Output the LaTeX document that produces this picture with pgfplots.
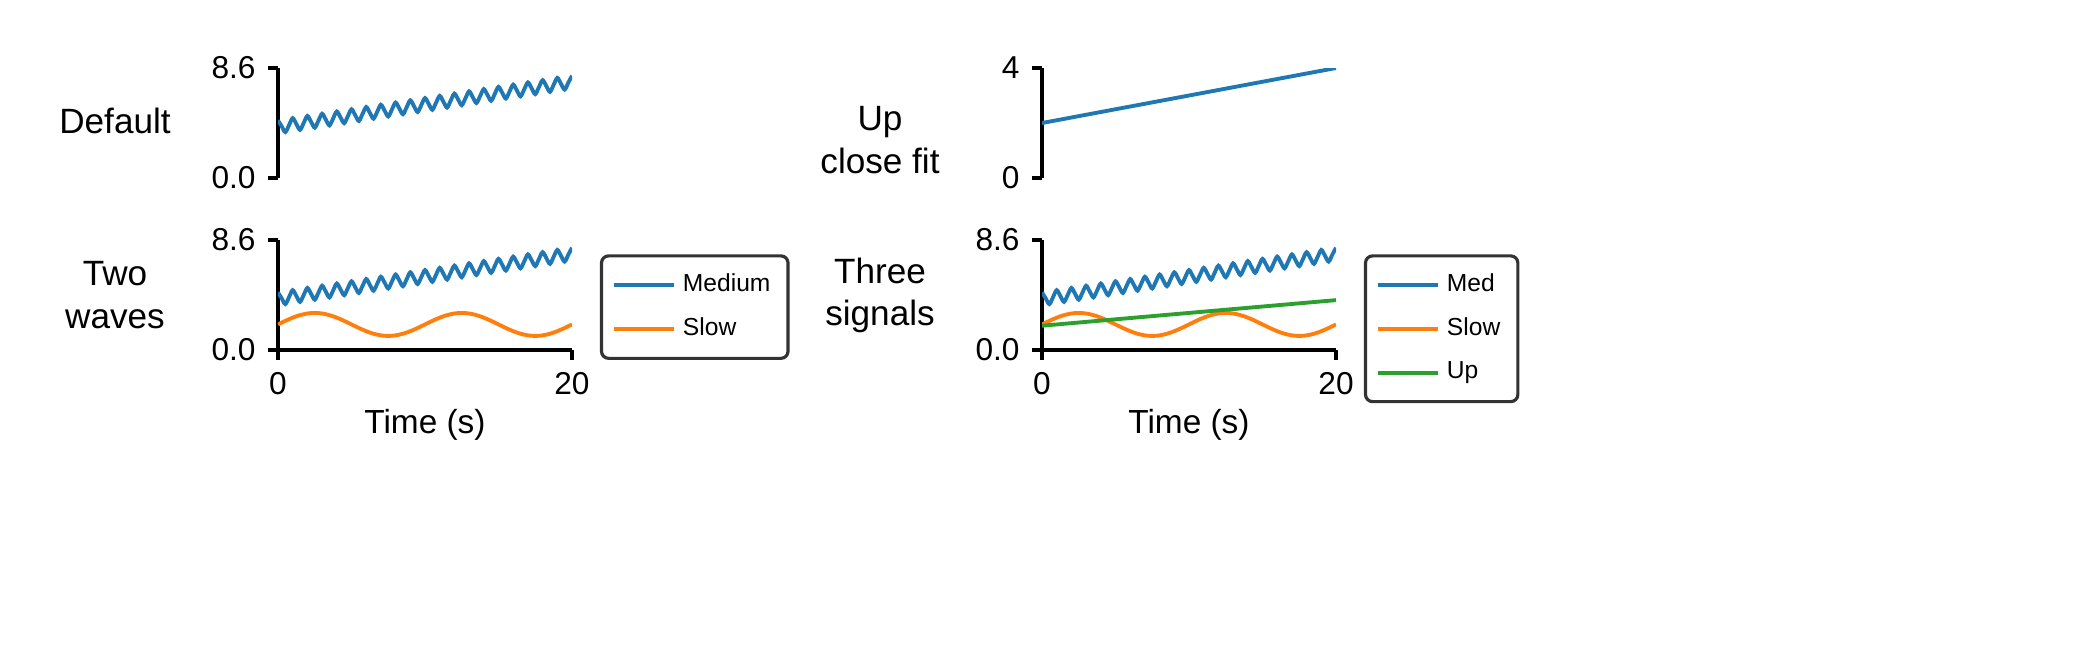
\documentclass[border=0pt]{standalone}
\usepackage{pgfplots}
\pgfplotsset{compat=1.18}
\usepackage{pgfplotstable}
\usepackage{fontspec}
\setmainfont{Liberation Sans}
\pgfplotstableread{
t m
0 4.5
0.25 4.044
0.5 3.588
0.75 4.131
1 4.675
1.25 4.219
1.5 3.763
1.75 4.306
2 4.85
2.25 4.394
2.5 3.938
2.75 4.481
3 5.025
3.25 4.569
3.5 4.113
3.75 4.656
4 5.2
4.25 4.744
4.5 4.288
4.75 4.831
5 5.375
5.25 4.919
5.5 4.463
5.75 5.006
6 5.55
6.25 5.094
6.5 4.638
6.75 5.181
7 5.725
7.25 5.269
7.5 4.813
7.75 5.356
8 5.9
8.25 5.444
8.5 4.988
8.75 5.531
9 6.075
9.25 5.619
9.5 5.163
9.75 5.706
10 6.25
10.25 5.794
10.5 5.338
10.75 5.881
11 6.425
11.25 5.969
11.5 5.513
11.75 6.056
12 6.6
12.25 6.144
12.5 5.688
12.75 6.231
13 6.775
13.25 6.319
13.5 5.863
13.75 6.406
14 6.95
14.25 6.494
14.5 6.038
14.75 6.581
15 7.125
15.25 6.669
15.5 6.213
15.75 6.756
16 7.3
16.25 6.844
16.5 6.388
16.75 6.931
17 7.475
17.25 7.019
17.5 6.563
17.75 7.106
18 7.65
18.25 7.194
18.5 6.738
18.75 7.281
19 7.825
19.25 7.369
19.5 6.913
19.75 7.456
20 8.0
}\med
\pgfplotstableread{
t s
0 2
0.5 2.278
1 2.529
1.5 2.728
2 2.856
2.5 2.9
3 2.856
3.5 2.728
4 2.529
4.5 2.278
5 2
5.5 1.722
6 1.471
6.5 1.272
7 1.144
7.5 1.1
8 1.144
8.5 1.272
9 1.471
9.5 1.722
10 2
10.5 2.278
11 2.529
11.5 2.728
12 2.856
12.5 2.9
13 2.856
13.5 2.728
14 2.529
14.5 2.278
15 2
15.5 1.722
16 1.471
16.5 1.272
17 1.144
17.5 1.1
18 1.144
18.5 1.272
19 1.471
19.5 1.722
20 2
}\slow
\definecolor{cB}{HTML}{1F77B4}
\definecolor{cO}{HTML}{FF7F0E}
\definecolor{cG}{HTML}{2CA02C}
\begin{document}
\begin{tikzpicture}
\path (0mm,0mm) rectangle (210mm,-66mm);
\pgfplotsset{
  every axis/.style={scale only axis, width=29.4mm, height=11mm,
    xmin=0, xmax=20, ymin=0, ymax=8.6, ytick={0,8.6},
    yticklabels={0.0,8.6}, xtick={0,20},
    axis y line*=left, axis x line*=bottom,
    axis line style={line width=0.9pt, -},
    tick style={line width=0.9pt, black},
    tick align=outside, major tick length=1mm,
    ticklabel style={font=\fontsize{9}{10}\selectfont},
    xlabel style={font=\fontsize{9.5}{11}\selectfont, yshift=1mm},
    /pgf/number format/assume math mode=true,
    every axis plot/.append style={line width=1.1pt},
    legend style={font=\fontsize{7}{9}\selectfont, draw=black!80, line width=0.9pt,
      rounded corners=2pt, anchor=north west, row sep=2pt, inner sep=3pt},
    legend cell align=left,
  },
}
% top-left
\begin{axis}[at={(27.8mm,-17.8mm)}, anchor=south west, hide x axis, xticklabels={}]
\addplot[cB, smooth] table[x=t,y=m] {\med};
\end{axis}
% top-right
\begin{axis}[at={(104.2mm,-17.8mm)}, anchor=south west, hide x axis, ymax=4, ytick={0,4}, yticklabels={0,4}]
\addplot[cB] coordinates {(0,2) (20,4)};
\end{axis}
% bottom-left
\begin{axis}[at={(27.8mm,-35.0mm)}, anchor=south west, xlabel={Time (s)},
  legend style={at={(1.095,0.87)}}]
\addplot[cB, smooth] table[x=t,y=m] {\med};
\addplot[cO, smooth] table[x=t,y=s] {\slow};
\legend{Medium,Slow}
\end{axis}
% bottom-right
\begin{axis}[at={(104.2mm,-35.0mm)}, anchor=south west, xlabel={Time (s)},
  legend style={at={(1.095,0.87)}}]
\addplot[cB, smooth] table[x=t,y=m] {\med};
\addplot[cO, smooth] table[x=t,y=s] {\slow};
\addplot[cG] coordinates {(0,1.9) (20,3.9)};
\legend{Med,Slow,Up}
\end{axis}
\begin{scope}[every node/.style={font=\fontsize{10}{12}\selectfont, align=center}]
\node at (11.5mm,-12.1mm) {Default};
\node at (11.5mm,-29.5mm) {Two\\waves};
\node at (88mm,-14mm) {Up\\close fit};
\node at (88mm,-29.5mm) {Three\\signals};
\end{scope}
\end{tikzpicture}
\end{document}
